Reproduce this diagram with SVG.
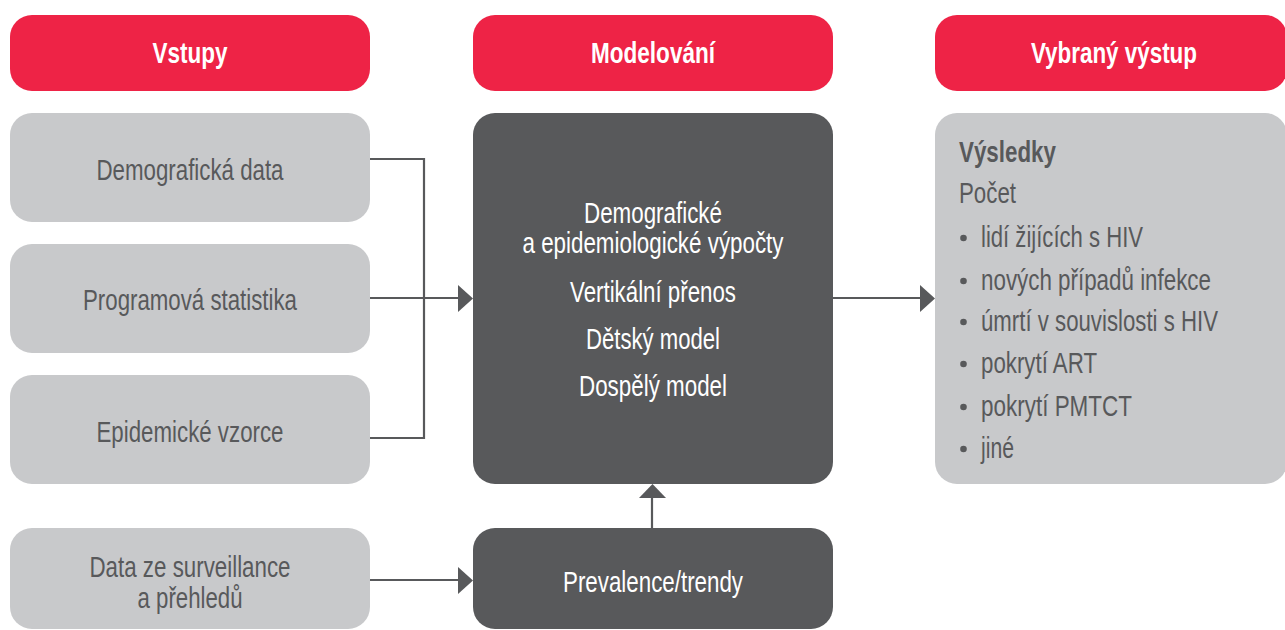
<svg xmlns="http://www.w3.org/2000/svg" width="1285" height="630" viewBox="0 0 1285 630">
<style>
.hdr{fill:#EE2346}
.lt{fill:#C8C9CB}
.dk{fill:#58595B}
text{font-family:"Liberation Sans",Arial,sans-serif}
.ht{font-size:29px;font-weight:bold;fill:#FFFFFF;text-anchor:middle}
.lt-t{font-size:29px;fill:#58595B;text-anchor:middle}
.dk-t{font-size:29px;fill:#FFFFFF;text-anchor:middle}
.rt{font-size:29px;fill:#58595B}
.rb{font-size:29px;fill:#58595B;font-weight:bold}
.ln{stroke:#58595B;stroke-width:2.2;fill:none}
.ah{fill:#58595B}
</style>
<rect width="1285" height="630" fill="#FFFFFF"/>
<g id="hdr-vstupy">
<rect class="hdr" x="10" y="15" width="360" height="76" rx="22"/>
<text class="ht" x="190" y="63" textLength="75" lengthAdjust="spacingAndGlyphs">Vstupy</text>
</g>
<g id="hdr-modelovani">
<rect class="hdr" x="473" y="15" width="360" height="76" rx="22"/>
<text class="ht" x="653" y="63" textLength="124" lengthAdjust="spacingAndGlyphs">Modelování</text>
</g>
<g id="hdr-vystup">
<rect class="hdr" x="935" y="15" width="352" height="76" rx="22"/>
<text class="ht" x="1114" y="63" textLength="166" lengthAdjust="spacingAndGlyphs">Vybraný výstup</text>
</g>
<g id="in-demo">
<rect class="lt" x="10" y="113" width="360" height="109" rx="22"/>
<text class="lt-t" x="190" y="180" textLength="187" lengthAdjust="spacingAndGlyphs">Demografická data</text>
</g>
<g id="in-prog">
<rect class="lt" x="10" y="244" width="360" height="109" rx="22"/>
<text class="lt-t" x="190" y="310" textLength="214" lengthAdjust="spacingAndGlyphs">Programová statistika</text>
</g>
<g id="in-epi">
<rect class="lt" x="10" y="375" width="360" height="109" rx="22"/>
<text class="lt-t" x="190" y="442" textLength="187" lengthAdjust="spacingAndGlyphs">Epidemické vzorce</text>
</g>
<g id="in-surv">
<rect class="lt" x="10" y="528" width="360" height="101" rx="22"/>
<text class="lt-t" x="190" y="577" textLength="201" lengthAdjust="spacingAndGlyphs">Data ze surveillance</text>
<text class="lt-t" x="190" y="608" textLength="105" lengthAdjust="spacingAndGlyphs">a přehledů</text>
</g>
<g id="model">
<rect class="dk" x="473" y="113" width="360" height="371" rx="22"/>
<text class="dk-t" x="653" y="223" textLength="138" lengthAdjust="spacingAndGlyphs">Demografické</text>
<text class="dk-t" x="653" y="253" textLength="261" lengthAdjust="spacingAndGlyphs">a epidemiologické výpočty</text>
<text class="dk-t" x="653" y="302" textLength="166" lengthAdjust="spacingAndGlyphs">Vertikální přenos</text>
<text class="dk-t" x="653" y="349" textLength="134" lengthAdjust="spacingAndGlyphs">Dětský model</text>
<text class="dk-t" x="653" y="396" textLength="148" lengthAdjust="spacingAndGlyphs">Dospělý model</text>
</g>
<g id="prevalence">
<rect class="dk" x="473" y="528" width="360" height="101" rx="22"/>
<text class="dk-t" x="653" y="592" textLength="180" lengthAdjust="spacingAndGlyphs">Prevalence/trendy</text>
</g>
<g id="vysledky">
<rect class="lt" x="935" y="113" width="352" height="371" rx="22"/>
<text class="rb" x="959" y="162" textLength="97" lengthAdjust="spacingAndGlyphs">Výsledky</text>
<text class="rt" x="959" y="203" textLength="57" lengthAdjust="spacingAndGlyphs">Počet</text>
<circle class="ah" cx="963.5" cy="238" r="3.3"/>
<text class="rt" x="981" y="247" textLength="162" lengthAdjust="spacingAndGlyphs">lidí žijících s HIV</text>
<circle class="ah" cx="963.5" cy="281" r="3.3"/>
<text class="rt" x="981" y="290" textLength="230" lengthAdjust="spacingAndGlyphs">nových případů infekce</text>
<circle class="ah" cx="963.5" cy="322" r="3.3"/>
<text class="rt" x="981" y="331" textLength="237" lengthAdjust="spacingAndGlyphs">úmrtí v souvislosti s HIV</text>
<circle class="ah" cx="963.5" cy="364" r="3.3"/>
<text class="rt" x="981" y="373" textLength="116" lengthAdjust="spacingAndGlyphs">pokrytí ART</text>
<circle class="ah" cx="963.5" cy="407" r="3.3"/>
<text class="rt" x="981" y="416" textLength="151" lengthAdjust="spacingAndGlyphs">pokrytí PMTCT</text>
<circle class="ah" cx="963.5" cy="449" r="3.3"/>
<text class="rt" x="981" y="458" textLength="33" lengthAdjust="spacingAndGlyphs">jiné</text>
</g>
<g id="connectors">
<path class="ln" d="M370 159 H424 V438 H370"/>
<path class="ln" d="M370 298 H460"/>
<polygon class="ah" points="458,285 473,298.5 458,312"/>
<path class="ln" d="M833 298 H922"/>
<polygon class="ah" points="920,285 935,298.5 920,312"/>
<path class="ln" d="M652 528 V496"/>
<polygon class="ah" points="639,498 652.5,484 666,498"/>
<path class="ln" d="M370 580 H460"/>
<polygon class="ah" points="458,567 473,580.5 458,594"/>
</g>
</svg>
